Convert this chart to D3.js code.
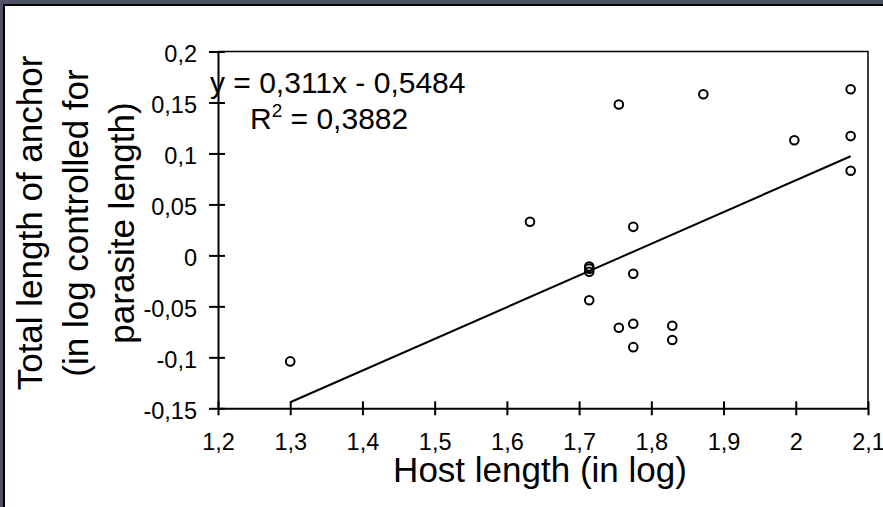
<!DOCTYPE html>
<html>
<head>
<meta charset="utf-8">
<script src="https://cdn.jsdelivr.net/npm/d3@7"></script>
<style>
  body { margin: 0; background: #fff; overflow: hidden; }
  svg { display: block; font-family: "Liberation Sans", Arial, sans-serif; }
  .axis path, .axis line { stroke: #000; stroke-width: 2; }
  .axis text { font-size: 23.5px; fill: #000; }
</style>
</head>
<body>
<svg class="chart"></svg>
<script>
// Data
var hostLength = [1.300, 1.632, 1.714, 1.714, 1.714, 1.714, 1.755, 1.755, 1.775, 1.775,
                  1.775, 1.775, 1.829, 1.829, 1.872, 1.998, 2.076, 2.076, 2.076];
var anchorLength = [-0.104, 0.033, -0.011, -0.013, -0.016, -0.044, 0.148, -0.071, 0.028, -0.018,
                    -0.067, -0.090, -0.069, -0.083, 0.158, 0.113, 0.163, 0.117, 0.083];
var xTicks = [1.2, 1.3, 1.4, 1.5, 1.6, 1.7, 1.8, 1.9, 2, 2.1];
var yTicks = [-0.15, -0.1, -0.05, 0, 0.05, 0.1, 0.15, 0.2];
var slope = 0.311, intercept = -0.5484, r2 = "0,3882";

var W = 883, H = 507;
var svg = d3.select(".chart").attr("width", W).attr("height", H);

// Window frame: grey band and black edge on top and left only
svg.append("rect").attr("width", W).attr("height", H).attr("fill", "#4f5266");
svg.append("rect").attr("x", 5).attr("y", 6).attr("width", W).attr("height", H).attr("fill", "#fff");
svg.append("path").attr("d", "M4," + H + "V5H" + W)
    .attr("fill", "none").attr("stroke", "#000").attr("stroke-width", 2);

var x = d3.scaleLinear().domain([1.2, 2.1]).range([218, 868]);
var y = d3.scaleLinear().domain([-0.15, 0.2]).range([408.3, 51.5]);

var comma = function(d) { return String(d).replace(".", ","); };

// Plot area border (top and right)
svg.append("path")
    .attr("d", "M" + x(1.2) + "," + y(0.2) + "H" + x(2.1) + "V" + y(-0.15))
    .attr("fill", "none").attr("stroke", "#000").attr("stroke-width", 1.5);

// Axes with crossing ticks
var xAxis = svg.append("g").attr("class", "axis")
    .attr("transform", "translate(0," + y(-0.15) + ")")
    .call(d3.axisBottom(x).tickValues(xTicks).tickFormat(comma)
        .tickSizeInner(7).tickSizeOuter(0).tickPadding(18));
xAxis.selectAll(".tick line").attr("y1", -7);

var yAxis = svg.append("g").attr("class", "axis")
    .attr("transform", "translate(" + x(1.2) + ",0)")
    .call(d3.axisLeft(y).tickValues(yTicks).tickFormat(comma)
        .tickSizeInner(9).tickSizeOuter(0).tickPadding(12));
yAxis.selectAll(".tick line").attr("x1", 7);
yAxis.selectAll(".tick text").attr("dy", "0.42em");

// Trend line across the data range
var xr = d3.extent(hostLength);
svg.append("line")
    .attr("x1", x(xr[0])).attr("y1", y(slope * xr[0] + intercept))
    .attr("x2", x(xr[1])).attr("y2", y(slope * xr[1] + intercept))
    .attr("stroke", "#000").attr("stroke-width", 2);

// Points
svg.selectAll(".dot")
    .data(hostLength)
    .enter().append("circle")
    .attr("class", "dot")
    .attr("cx", function(d) { return x(d); })
    .attr("cy", function(d, i) { return y(anchorLength[i]); })
    .attr("r", 4.3)
    .attr("fill", "none")
    .attr("stroke", "#000")
    .attr("stroke-width", 2);

// Equation
svg.append("text")
    .attr("x", 210).attr("y", 93)
    .style("font-size", "30px")
    .text("y = " + comma(slope) + "x - " + comma(-intercept));
var r2Text = svg.append("text")
    .attr("x", 250).attr("y", 129)
    .style("font-size", "30px");
r2Text.append("tspan").text("R");
r2Text.append("tspan").attr("dy", -12).style("font-size", "19px").text("2");
r2Text.append("tspan").attr("dy", 12).text(" = " + r2);

// Axis titles
svg.append("text")
    .attr("x", 540).attr("y", 482)
    .attr("text-anchor", "middle")
    .style("font-size", "35px")
    .text("Host length (in log)");

var yTitle = ["Total length of anchor", "(in log controlled for", "parasite length)"];
svg.selectAll(".ytitle")
    .data(yTitle)
    .enter().append("text")
    .attr("class", "ytitle")
    .attr("transform", function(d, i) { return "translate(" + (42 + i * 46) + ",223) rotate(-90)"; })
    .attr("text-anchor", "middle")
    .style("font-size", "35px")
    .text(function(d) { return d; });
</script>
</body>
</html>
